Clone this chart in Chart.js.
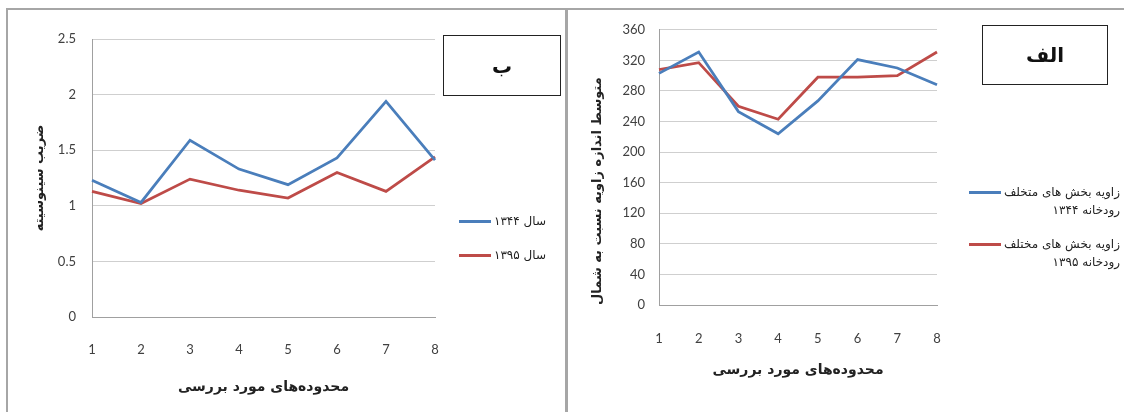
<!DOCTYPE html>
<html>
<head>
<meta charset="utf-8">
<script src="https://cdn.jsdelivr.net/npm/chart.js@4.4.0/dist/chart.umd.min.js"></script>
<style>
  body { margin: 0; width: 1124px; height: 412px; overflow: hidden; position: relative; background: #fff; font-family: "DejaVu Sans", sans-serif; }
  .panel { position: absolute; top: 8px; height: 420px; border: 2px solid #a6a6a6; box-sizing: border-box; }
  #panelB { left: 6px; width: 561px; }
  #panelA { left: 566px; width: 570px; }
  canvas { position: absolute; }
  #chartB { left: 7px; top: 8px; }
  #chartA { left: 567px; top: 8px; }
  .tag { position: absolute; border: 1.5px solid #222; box-sizing: border-box; display: flex; align-items: center; justify-content: center; font-weight: bold; font-size: 20px; color: #111; }
  .legend { position: absolute; font-size: 12px; color: #222; direction: rtl; text-align: right; white-space: nowrap; line-height: 18px; }
  .legend .row { margin-bottom: 16px; }
  .sw { display: inline-block; width: 32px; height: 3px; vertical-align: middle; margin-right: 3px; }
</style>
</head>
<body>
<div class="panel" id="panelB"></div>
<div class="panel" id="panelA"></div>
<canvas id="chartB" width="559" height="404"></canvas>
<canvas id="chartA" width="557" height="404"></canvas>
<div class="tag" style="left:443px;top:35px;width:118px;height:61px;">ب</div>
<div class="tag" style="left:982px;top:25px;width:126px;height:60px;">الف</div>
<div class="legend" id="legendB" style="right:578px;top:212px;"></div>
<div class="legend" id="legendA" style="right:4px;top:183px;"></div>
<script>
// محدوده‌های مورد بررسی
const ranges = ['1', '2', '3', '4', '5', '6', '7', '8'];

// ضریب سینوسیته
const sinuosity1344 = [1.23, 1.03, 1.59, 1.33, 1.19, 1.43, 1.94, 1.41];
const sinuosity1395 = [1.13, 1.02, 1.24, 1.14, 1.07, 1.30, 1.13, 1.44];

// زاویه نسبت به شمال
const angle1344 = [303, 331, 253, 224, 267, 321, 310, 288];
const angle1395 = [308, 317, 260, 243, 298, 298, 300, 331];

const namesB = ['سال ۱۳۴۴', 'سال ۱۳۹۵'];
const namesA = [['زاویه بخش های متخلف', 'رودخانه ۱۳۴۴'], ['زاویه بخش های مختلف', 'رودخانه ۱۳۹۵']];

const blue = '#4A7EBB';
const red = '#BE4B48';
const tickFont = { family: 'Lato', size: 13 };
const titleFont = { family: 'DejaVu Sans', size: 13, weight: 'bold' };

function lineSet(data, color) {
  return { data, borderColor: color, backgroundColor: color, borderWidth: 2.75, tension: 0, pointRadius: 0 };
}

function makeChart(id, sets, opts) {
  return new Chart(document.getElementById(id), {
    type: 'line',
    data: { labels: ranges, datasets: sets },
    options: {
      responsive: false,
      animation: false,
      devicePixelRatio: 1,
      layout: { padding: opts.padding },
      plugins: { legend: { display: false }, tooltip: { enabled: false } },
      scales: {
        x: {
          afterFit: s => { s.height = opts.xHeight; },
          grid: { display: false },
          border: { color: '#a0a0a0', width: 1 },
          ticks: { font: tickFont, color: '#404040', padding: opts.xTickPad, maxRotation: 0 },
          title: { display: true, text: 'محدوده‌های مورد بررسی', font: { family: 'DejaVu Sans', size: 14, weight: 'bold' }, color: '#222', padding: { bottom: opts.xTitlePad } }
        },
        y: {
          min: opts.min, max: opts.max,
          afterFit: s => { s.width = opts.yWidth; },
          grid: { color: '#cfcfcf', drawTicks: false },
          border: { color: '#a0a0a0', width: 1 },
          ticks: { stepSize: opts.step, font: tickFont, color: '#404040', padding: opts.yTickPad, callback: v => String(v) },
          title: { display: true, text: opts.yTitle, align: opts.yAlign, font: titleFont, color: '#222', padding: { top: opts.yTitlePad } }
        }
      }
    }
  });
}

makeChart('chartB', [lineSet(sinuosity1344, blue), lineSet(sinuosity1395, red)], {
  padding: { top: 31, right: 131, left: 0, bottom: 0 },
  xHeight: 95, xTickPad: 17, xTitlePad: 16,
  yWidth: 85, yTickPad: 16, yTitlePad: 25,
  min: 0, max: 2.5, step: 0.5, yTitle: 'ضریب سینوسیته', yAlign: 'center'
});

makeChart('chartA', [lineSet(angle1344, blue), lineSet(angle1395, red)], {
  padding: { top: 17, right: 187, left: 0, bottom: 0 },
  xHeight: 107, xTickPad: 18, xTitlePad: 33,
  yWidth: 92, yTickPad: 14, yTitlePad: 23,
  min: 0, max: 360, step: 40, yTitle: 'متوسط اندازه زاویه نسبت به شمال', yAlign: 'start'
});

// Legends
const colors = [blue, red];
document.getElementById('legendB').innerHTML = namesB.map((n, i) =>
  `<div class="row">${n}<span class="sw" style="background:${colors[i]}"></span></div>`).join('');
document.getElementById('legendA').innerHTML = namesA.map((n, i) =>
  `<div class="row">${n[0]}<span class="sw" style="background:${colors[i]}"></span><br>${n[1]}</div>`).join('');
</script>
</body>
</html>
